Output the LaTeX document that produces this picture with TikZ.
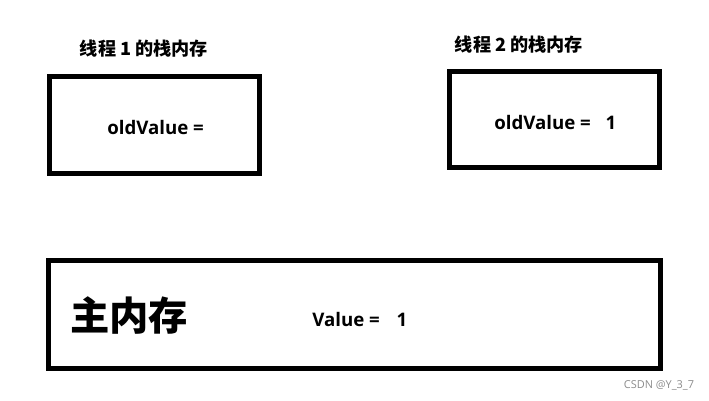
\documentclass[tikz,border=0pt]{standalone}
\usepackage{fontspec}
\setmainfont{Open Sans}
\newfontfamily\cjk{Noto Sans CJK SC}
\begin{document}
\begin{tikzpicture}[x=0.75pt,y=-0.75pt,
  memframe/.style={draw=black,line width=3.75pt},
  title/.style={font=\cjk\bfseries\fontsize{13.6pt}{15pt}\selectfont,inner sep=0pt},
  vlabel/.style={font=\bfseries\fontsize{14pt}{16pt}\selectfont,inner sep=0pt,anchor=west},
  bigtitle/.style={font=\cjk\bfseries\fontsize{29.5pt}{32pt}\selectfont,inner sep=0pt,anchor=west},
  wmark/.style={font=\fontsize{8.2pt}{10pt}\selectfont,text=black!45,inner sep=0pt}]
\useasboundingbox (0,0) rectangle (709,400);
\fill[white] (0,0) rectangle (709,400);
% boxes
\draw[memframe] (49.5,76.5) rectangle (259.5,173.5);
\draw[memframe] (449.5,71.5) rectangle (659.5,167.5);
\draw[memframe] (48.5,260.5) rectangle (660.5,368.5);
% titles
\node[title] (t1) at (144,49) {线程 1 的栈内存};
\node[title] (t2) at (519,45) {线程 2 的栈内存};
% values
\node[vlabel] (v1) at (107,127) {oldValue =};
\node[vlabel] (v2) at (494,122) {oldValue =};
\node[vlabel,anchor=center] (n2) at (611,123) {1};
\node[bigtitle] (main) at (70,315) {主内存};
\node[vlabel] (v3) at (312,319) {Value =};
\node[vlabel,anchor=center] (n3) at (402,320) {1};
\node[wmark] (wm) at (659,385) {CSDN @Y\_3\_7};
\end{tikzpicture}
\end{document}
